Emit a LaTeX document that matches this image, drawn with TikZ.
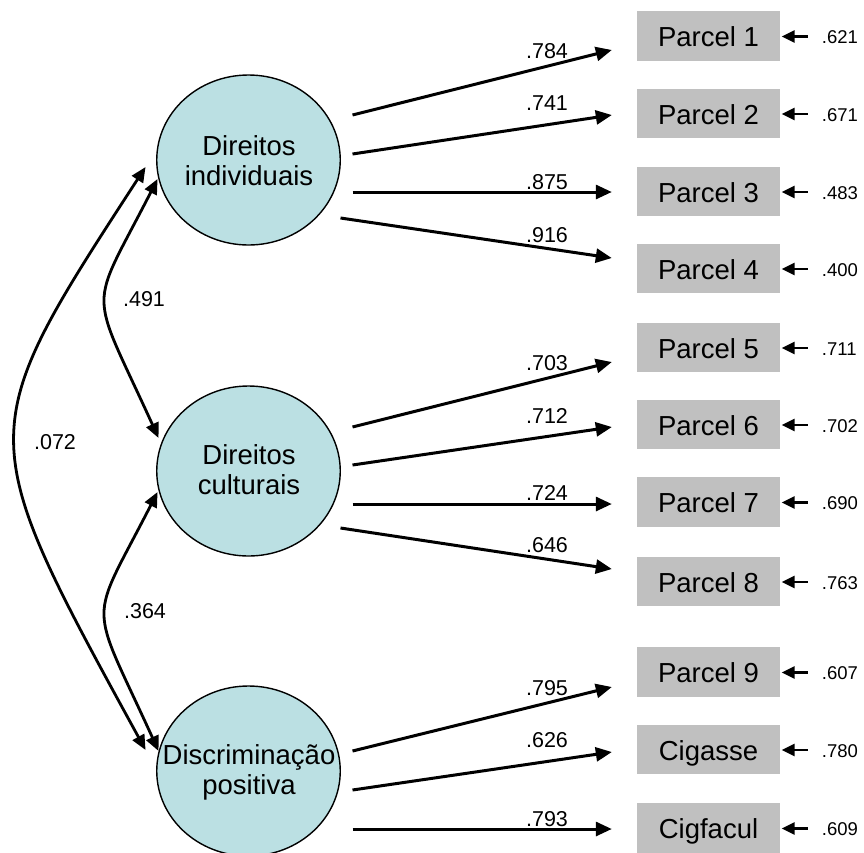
\documentclass[tikz,border=0pt]{standalone}
\usepackage{fontspec}
\setmainfont{Liberation Sans}
\usetikzlibrary{arrows.meta,shapes.geometric,calc}
\definecolor{latfill}{RGB}{187,224,227}
\definecolor{boxfill}{RGB}{192,192,192}
\begin{document}
\begin{tikzpicture}[x=1pt,y=-1pt,
 latent/.style={ellipse,draw=black,line width=1.4pt,fill=latfill,minimum width=183.5pt,minimum height=170pt,inner sep=0pt},
 lattext/.style={align=center,font=\fontsize{27.5}{30}\selectfont,inner sep=0pt},
 obs/.style={rectangle,fill=boxfill,minimum width=143pt,minimum height=49.5pt,inner sep=0pt,text height=21pt,text depth=0pt,font=\fontsize{27.5}{30}\selectfont},
 load/.style={line width=3pt,-{Triangle[length=16pt,width=14pt]}},
 errarr/.style={line width=2.6pt,-{Triangle[length=13pt,width=12pt]}},
 cov/.style={line width=2.8pt,{Triangle[length=15pt,width=13pt]}-{Triangle[length=15pt,width=13pt]}},
 lbl/.style={inner sep=0pt,font=\fontsize{21.5}{24}\selectfont},
 elbl/.style={inner sep=0pt,font=\fontsize{18.5}{20}\selectfont}]
\useasboundingbox (0,0) rectangle (864,852);

% latent variables
\node[latent] (DI) at (248.5,160) {};
\node[latent] (DC) at (248.5,471) {};
\node[latent] (DP) at (248.5,771) {};
\node[lattext] (DIt) at (249,161) {Direitos\\individuais};
\node[lattext] (DCt) at (249,470) {Direitos\\culturais};
\node[lattext] (DPt) at (249,772.5) {Discriminação\\positiva};

% observed variables
\node[obs] (P1) at (708.5,36) {Parcel 1};
\node[obs] (P2) at (708.5,113.5) {Parcel 2};
\node[obs] (P3) at (708.5,191.5) {Parcel 3};
\node[obs] (P4) at (708.5,268.5) {Parcel 4};
\node[obs] (P5) at (708.5,347.5) {Parcel 5};
\node[obs] (P6) at (708.5,424.5) {Parcel 6};
\node[obs] (P7) at (708.5,502) {Parcel 7};
\node[obs] (P8) at (708.5,581.5) {Parcel 8};
\node[obs] (P9) at (708.5,672) {Parcel 9};
\node[obs] (CA) at (708.5,749.5) {Cigasse};
\node[obs] (CF) at (708.5,828) {Cigfacul};

% loadings
\draw[load] ($(DI)+(104,-45)$) -- ($(P1.west)+(-25,14)$);
\draw[load] ($(DI)+(104,-6)$) -- ($(P2.west)+(-25,1.5)$);
\draw[load] ($(DI)+(104,32)$) -- ($(P3.west)+(-25,0.5)$);
\draw[load] ($(DI)+(92,58)$) -- ($(P4.west)+(-25,-10.5)$);
\draw[load] ($(DC)+(104,-44)$) -- ($(P5.west)+(-25,14.5)$);
\draw[load] ($(DC)+(104,-6)$) -- ($(P6.west)+(-25,2.5)$);
\draw[load] ($(DC)+(104,33)$) -- ($(P7.west)+(-25,2)$);
\draw[load] ($(DC)+(92,57)$) -- ($(P8.west)+(-25,-12.5)$);
\draw[load] ($(DP)+(104,-20)$) -- ($(P9.west)+(-25,15)$);
\draw[load] ($(DP)+(104,19)$) -- ($(CA.west)+(-25,2.5)$);
\draw[load] ($(DP)+(104,58)$) -- ($(CF.west)+(-25,1)$);

\node[lbl] (l1) at (547,51) {.784};
\node[lbl] (l2) at (547,103) {.741};
\node[lbl] (l3) at (547,182) {.875};
\node[lbl] (l4) at (547,235) {.916};
\node[lbl] (l5) at (547,363) {.703};
\node[lbl] (l6) at (547,416) {.712};
\node[lbl] (l7) at (547,493) {.724};
\node[lbl] (l8) at (547,545) {.646};
\node[lbl] (l9) at (547,688) {.795};
\node[lbl] (l10) at (547,740) {.626};
\node[lbl] (l11) at (547,819) {.793};

% error terms
\foreach \b/\v in {P1/.621,P2/.671,P3/.483,P4/.400,P5/.711,P6/.702,P7/.690,P8/.763,P9/.607,CA/.780,CF/.609}{
  \node[elbl,anchor=west] (e\b) at ($(\b.east)+(41.5,1.5)$) {\v};
  \draw[errarr] ($(e\b.west)+(-14,-1)$) -- ($(\b.east)+(1.5,0.5)$);
}

% covariances
\draw[cov] ($(DI.west)+(1.5,19)$) .. controls (88,315) and (88,283) .. ($(DC.west)+(2.5,-33)$);
\draw[cov] ($(DC.west)+(1.5,21)$) .. controls (88,628) and (88,596) .. ($(DP.west)+(2.5,-20)$);
\draw[cov] ($(DI.west)+(-10.5,7)$) .. controls (-28,434) and (-28,433) .. ($(DP.west)+(-10.5,-21)$);
\node[lbl] (c1) at (144,299) {.491};
\node[lbl] (c2) at (55,442) {.072};
\node[lbl] (c3) at (145,611) {.364};
\end{tikzpicture}
\end{document}
